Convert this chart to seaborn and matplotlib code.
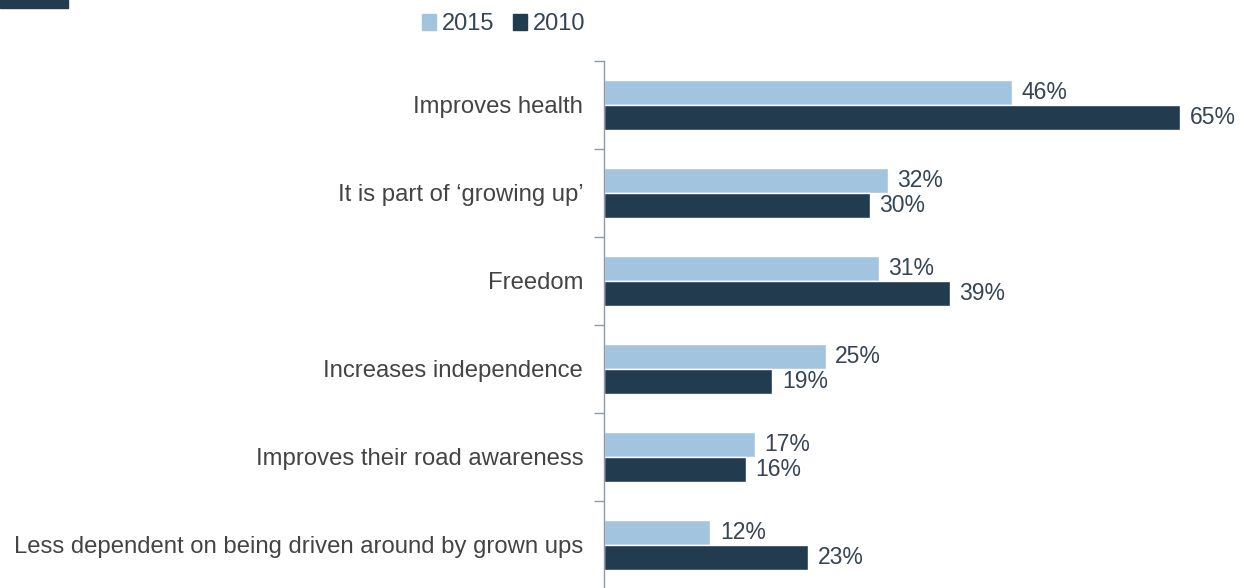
import matplotlib
matplotlib.use("Agg")
import matplotlib.pyplot as plt
import matplotlib.patches as mpatches
import seaborn as sns
import pandas as pd

categories = [
    "Improves health",
    "It is part of \u2018growing up\u2019",
    "Freedom",
    "Increases independence",
    "Improves their road awareness",
    "Less dependent on being driven around by grown ups",
]
years = ["2015", "2010"]
values_2015 = [46, 32, 31, 25, 17, 12]
values_2010 = [65, 30, 39, 19, 16, 23]

light = "#A3C4DE"
dark = "#223B4F"
label_color = "#444444"
value_color = "#354456"
axis_color = "#8C99AD"

df = pd.DataFrame({
    "reason": categories * 2,
    "year": [years[0]] * len(categories) + [years[1]] * len(categories),
    "pct": values_2015 + values_2010,
})

sns.set_theme(style="white")
plt.rcParams["font.family"] = ["Liberation Sans", "DejaVu Sans"]

fig = plt.figure(figsize=(12.44, 5.88), dpi=100)
ax = fig.add_axes([604 / 1244, -0.0017, 640 / 1244, 528 / 588])

sns.barplot(data=df, y="reason", x="pct", hue="year", orient="h",
            palette=[light, dark], width=0.57, ax=ax, legend=False,
            saturation=1)

ax.set_xlim(0, 640 / 8.86)
ax.set_ylim(len(categories) - 0.5, -0.5)

for container in ax.containers:
    ax.bar_label(container, labels=[f"{v:.0f}%" for v in container.datavalues],
                 padding=7, fontsize=16.5, color=value_color)

ax.set_xlabel("")
ax.set_ylabel("")
ax.set_xticks([])
for s in ["top", "right", "bottom"]:
    ax.spines[s].set_visible(False)
ax.spines["left"].set_color(axis_color)
ax.spines["left"].set_linewidth(1.0)

ax.set_yticks(range(len(categories)))
ax.set_yticklabels(categories, fontsize=17.2, color=label_color)
ax.tick_params(axis="y", which="major", length=0, pad=15)
ax.set_yticks([i - 0.5 for i in range(len(categories) + 1)], minor=True)
ax.tick_params(axis="y", which="minor", length=7, width=1, color=axis_color, left=True)

handles = [mpatches.Patch(color=light, label=years[0]),
           mpatches.Patch(color=dark, label=years[1])]
fig.legend(handles=handles, loc="center", bbox_to_anchor=(0.405, 0.959), ncol=2,
           frameon=False, handlelength=0.6, handleheight=0.7, handletextpad=0.25,
           columnspacing=0.8, prop={"size": 17}, labelcolor=value_color)

fig.patches.append(mpatches.Rectangle((0, 1 - 8 / 588), 68 / 1244, 8 / 588,
                                      transform=fig.transFigure, color=dark,
                                      zorder=5))

fig.savefig("out.png", dpi=100)
